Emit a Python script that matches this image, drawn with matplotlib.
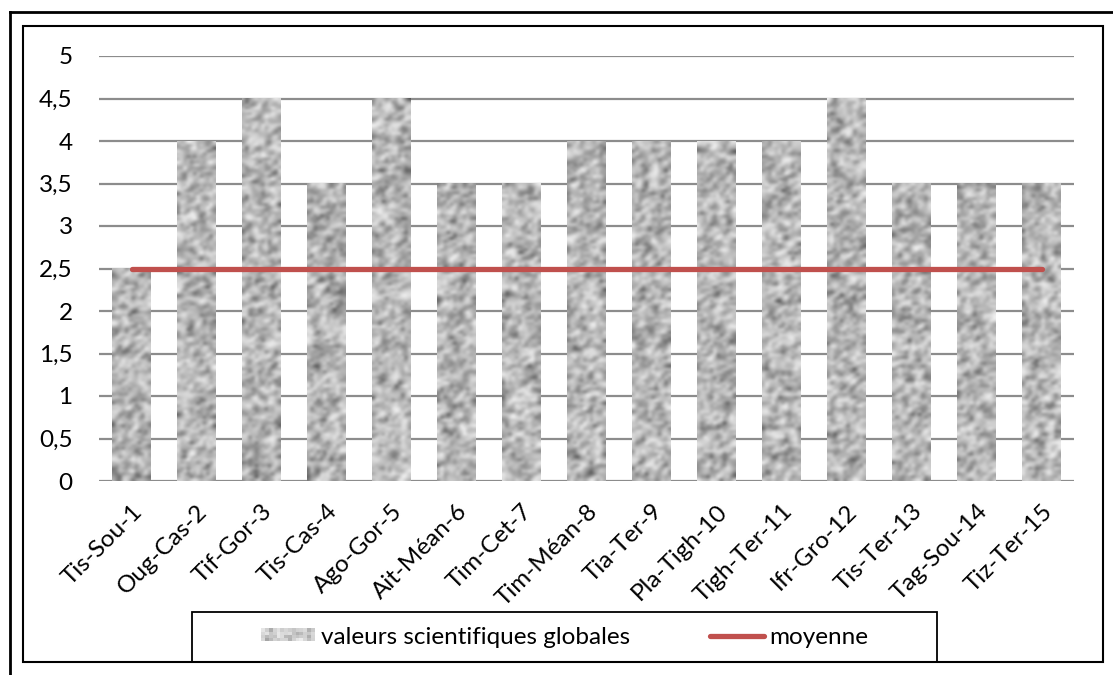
import numpy as np
import matplotlib
matplotlib.use("Agg")
import matplotlib.pyplot as plt
from matplotlib.patches import Rectangle
from matplotlib.lines import Line2D
from matplotlib.legend_handler import HandlerBase

# data
sites = ["Tis-Sou-1", "Oug-Cas-2", "Tif-Gor-3", "Tis-Cas-4", "Ago-Gor-5", "Ait-Méan-6",
         "Tim-Cet-7", "Tim-Méan-8", "Tia-Ter-9", "Pla-Tigh-10", "Tigh-Ter-11",
         "Ifr-Gro-12", "Tis-Ter-13", "Tag-Sou-14", "Tiz-Ter-15"]
valeurs = [2.5, 4, 4.5, 3.5, 4.5, 3.5, 3.5, 4, 4, 4, 4, 4.5, 3.5, 3.5, 3.5]
moyenne = [2.5] * 15
yticks = [0, 0.5, 1, 1.5, 2, 2.5, 3, 3.5, 4, 4.5, 5]
ytick_labels = ["0", "0,5", "1", "1,5", "2", "2,5", "3", "3,5", "4", "4,5", "5"]

plt.rcParams['font.family'] = ['Lato', 'DejaVu Sans']
FS = 17.5

W, H = 1113, 675
fig = plt.figure(figsize=(W / 100, H / 100), dpi=100)
ax = fig.add_axes([99 / W, (H - 481) / H, (1074 - 99) / W, (481 - 56) / H])

# granite-like texture (styling only)
rng = np.random.default_rng(7)


def granite(rows, cols):
    n = rng.random((rows, cols))
    n = (n + np.roll(n, 1, 0) + np.roll(n, 1, 1)) / 3
    return n ** 0.6


x = np.arange(len(sites))
bars = ax.bar(x, valeurs, width=0.585, color="none", zorder=2)
for b in bars:
    rows = max(int(b.get_height() * 30), 4)
    ax.imshow(granite(rows, 12), cmap="gray", vmin=-0.2, vmax=1.0,
              extent=(b.get_x(), b.get_x() + b.get_width(), 0, b.get_height()),
              aspect="auto", interpolation="bicubic", zorder=2)

ax.plot(x, moyenne, color="#C0504D", lw=3.8, solid_capstyle="round", zorder=3)

ax.set_xlim(-0.5, len(sites) - 0.5)
ax.set_ylim(0, 5)
ax.set_yticks(yticks)
ax.set_yticklabels(ytick_labels, fontsize=FS)
ax.yaxis.grid(True, color="#8c8c8c", lw=1.6)
ax.set_axisbelow(True)
ax.tick_params(axis="y", length=0, pad=19)
ax.tick_params(axis="x", length=0, pad=14)
ax.set_xticks(x)
ax.set_xticklabels(sites, fontsize=FS, rotation=45, ha="right", va="top",
                   rotation_mode="anchor")
for s in ax.spines.values():
    s.set_visible(False)


# legend
class TextureHandler(HandlerBase):
    def create_artists(self, legend, orig_handle, xdescent, ydescent, width, height,
                       fontsize, trans):
        g = granite(4, 14)
        arts = []
        for i in range(g.shape[0]):
            for j in range(g.shape[1]):
                v = 0.5 + 0.45 * g[i, j]
                r = Rectangle((-xdescent + j * width / g.shape[1],
                               -ydescent + i * height / g.shape[0]),
                              width / g.shape[1], height / g.shape[0],
                              facecolor=(v, v, v), edgecolor="none", transform=trans)
                arts.append(r)
        return arts


tex_handle = Rectangle((0, 0), 1, 1)
line_handle = Line2D([], [], color="#C0504D", lw=3.8, solid_capstyle="round")
fig.legend([tex_handle, line_handle], ["valeurs scientifiques globales", "moyenne"],
           handler_map={Rectangle: TextureHandler()}, ncol=2, frameon=False,
           loc="center", bbox_to_anchor=(565 / W, (H - 637) / H), fontsize=FS,
           handlelength=2.2, handleheight=0.45, handletextpad=0.25, columnspacing=3.3)

# frames
fig.add_artist(Rectangle((192 / W, (H - 662) / H), (937 - 192) / W, (662 - 612) / H,
                         transform=fig.transFigure, fill=False, ec="black", lw=1.3))
fig.add_artist(Rectangle((23 / W, (H - 662) / H), (1103 - 23) / W, (662 - 26) / H,
                         transform=fig.transFigure, fill=False, ec="black", lw=1.5))
fig.add_artist(Line2D([10 / W, 1], [(H - 12) / H] * 2, transform=fig.transFigure,
                      color="black", lw=2))
fig.add_artist(Line2D([10 / W] * 2, [0, (H - 12) / H], transform=fig.transFigure,
                      color="black", lw=2))

fig.savefig("out.png", dpi=100)
